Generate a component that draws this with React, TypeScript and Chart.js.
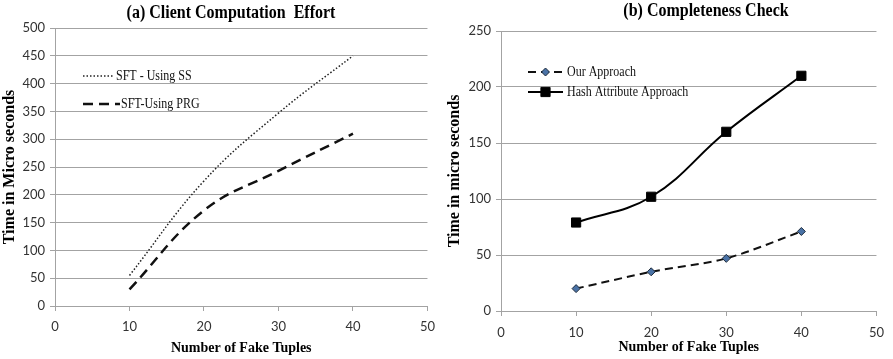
import React, { useEffect, useRef } from "react";
import { Chart, registerables } from "chart.js";

Chart.register(...registerables);

// ---- data ----
const fakeTuples = [10, 20, 30, 40];
const sftUsingSS = [55, 225, 347, 450];
const sftUsingPRG = [30, 172, 243, 310];
const ourApproach = [20, 35, 47, 71];
const hashAttributeApproach = [79, 102, 160, 210];

const leftTitle = "(a) Client Computation  Effort";
const rightTitle = "(b) Completeness Check";
const leftYTitle = "Time in Micro seconds";
const rightYTitle = "Time in micro seconds";
const xTitle = "Number of Fake Tuples";
const leftLegend = ["SFT - Using SS", "SFT-Using PRG"];
const rightLegend = ["Our Approach", "Hash Attribute Approach"];

const GRID = "#a3a3a3";
const TICK_FONT = { family: "Lato, 'Liberation Sans', sans-serif", size: 13 };
const X_TITLE_FONT = { family: "'Liberation Serif', serif", size: 14, weight: "bold" as const };
const Y_TITLE_FONT = { family: "'Liberation Serif', serif", size: 16, weight: "bold" as const };

type Decor = {
  title: string;
  titleX: number;
  titleY: number;
  legend: { label: string; x0: number; x1: number; y: number; tx: number }[];
};

function drawMarker(ctx: CanvasRenderingContext2D, style: string, x: number, y: number, r: number, fill: string, stroke: string) {
  ctx.save();
  ctx.setLineDash([]);
  ctx.fillStyle = fill;
  ctx.strokeStyle = stroke;
  ctx.lineWidth = 1;
  ctx.beginPath();
  if (style === "rect") {
    const s = Math.SQRT1_2 * r;
    ctx.rect(x - s, y - s, 2 * s, 2 * s);
  } else if (style === "rectRot") {
    ctx.moveTo(x, y - r);
    ctx.lineTo(x + r, y);
    ctx.lineTo(x, y + r);
    ctx.lineTo(x - r, y);
    ctx.closePath();
  }
  ctx.fill();
  ctx.stroke();
  ctx.restore();
}

function stretchedText(ctx: CanvasRenderingContext2D, text: string, x: number, y: number, sy: number) {
  ctx.save();
  ctx.translate(x, y);
  ctx.scale(1, sy);
  ctx.fillText(text, 0, 0);
  ctx.restore();
}

function makeDecor(cfg: Decor) {
  return {
    id: "decor",
    afterDraw(chart: any) {
      const ctx: CanvasRenderingContext2D = chart.ctx;
      ctx.save();
      ctx.fillStyle = "#000";
      ctx.textAlign = "center";
      ctx.textBaseline = "middle";
      ctx.font = "bold 16px 'Liberation Serif', serif";
      stretchedText(ctx, cfg.title, cfg.titleX, cfg.titleY, 1.22);
      cfg.legend.forEach((item, i) => {
        const ds = chart.data.datasets[i];
        ctx.save();
        ctx.strokeStyle = ds.borderColor;
        ctx.lineWidth = ds.borderWidth;
        ctx.setLineDash(ds.borderDash || []);
        ctx.beginPath();
        ctx.moveTo(item.x0, item.y);
        ctx.lineTo(item.x1, item.y);
        ctx.stroke();
        ctx.restore();
        if (ds.pointRadius > 0) {
          drawMarker(ctx, ds.pointStyle, (item.x0 + item.x1) / 2, item.y, ds.pointRadius, ds.pointBackgroundColor, ds.pointBorderColor);
        }
        ctx.font = "12px 'Liberation Serif', serif";
        ctx.textAlign = "left";
        ctx.fillStyle = "#111";
        stretchedText(ctx, item.label, item.tx, item.y, 1.15);
      });
      ctx.restore();
    },
  };
}

function makeOptions(p: {
  yMax: number;
  yTitle: string;
  yWidth: number;
  xHeight: number;
  padTop: number;
  padRight: number;
  yTitlePad: number;
  xTitlePad: number;
  xTickPad: number;
}) {
  return {
    responsive: false,
    animation: false as const,
    devicePixelRatio: 1,
    layout: { padding: { top: p.padTop, right: p.padRight, left: 0, bottom: 0 } },
    plugins: { legend: { display: false }, title: { display: false }, tooltip: { enabled: false } },
    scales: {
      x: {
        type: "linear" as const,
        min: 0,
        max: 50,
        ticks: { stepSize: 10, color: "#333", font: TICK_FONT, padding: p.xTickPad },
        grid: { drawOnChartArea: false, drawTicks: true, tickLength: 5, color: GRID },
        border: { color: GRID, width: 1 },
        title: { display: true, text: xTitle, color: "#000", font: X_TITLE_FONT, padding: { top: 0, bottom: p.xTitlePad } },
        afterFit: (s: any) => {
          s.height = p.xHeight;
        },
      },
      y: {
        min: 0,
        max: p.yMax,
        ticks: { stepSize: 50, color: "#333", font: TICK_FONT, padding: 5 },
        grid: { color: GRID, tickLength: 5, lineWidth: 1 },
        border: { color: GRID, width: 1 },
        title: { display: true, text: p.yTitle, color: "#000", font: Y_TITLE_FONT, padding: { top: p.yTitlePad, bottom: 0 } },
        afterFit: (s: any) => {
          s.width = p.yWidth;
        },
      },
    },
  };
}

const pts = (ys: number[]) => fakeTuples.map((x, i) => ({ x, y: ys[i] }));

export default function App() {
  const leftRef = useRef<HTMLCanvasElement>(null);
  const rightRef = useRef<HTMLCanvasElement>(null);

  useEffect(() => {
    const left = new Chart(leftRef.current!, {
      type: "line",
      data: {
        datasets: [
          {
            label: leftLegend[0],
            data: pts(sftUsingSS),
            borderColor: "#222",
            borderWidth: 1.5,
            borderDash: [1.5, 2],
            pointRadius: 0,
            tension: 0.4,
            fill: false,
          },
          {
            label: leftLegend[1],
            data: pts(sftUsingPRG),
            borderColor: "#111",
            borderWidth: 2.5,
            borderDash: [10, 6],
            pointRadius: 0,
            tension: 0.4,
            fill: false,
          },
        ],
      },
      options: makeOptions({
        yMax: 500,
        yTitle: leftYTitle,
        yWidth: 55,
        xHeight: 53,
        padTop: 28,
        padRight: 14,
        yTitlePad: 0.5,
        xTitlePad: 2,
        xTickPad: 8,
      }) as any,
      plugins: [
        makeDecor({
          title: leftTitle,
          titleX: 231,
          titleY: 13,
          legend: [
            { label: leftLegend[0], x0: 83, x1: 114, y: 76, tx: 116 },
            { label: leftLegend[1], x0: 83, x1: 120, y: 104, tx: 121 },
          ],
        }),
      ],
    });

    const right = new Chart(rightRef.current!, {
      type: "line",
      data: {
        datasets: [
          {
            label: rightLegend[0],
            data: pts(ourApproach),
            borderColor: "#111",
            borderWidth: 2,
            borderDash: [8, 5],
            pointStyle: "rectRot",
            pointRadius: 4,
            pointBackgroundColor: "#4a72a6",
            pointBorderColor: "#1d2a3a",
            pointBorderWidth: 1,
            tension: 0.3,
            fill: false,
          },
          {
            label: rightLegend[1],
            data: pts(hashAttributeApproach),
            borderColor: "#000",
            borderWidth: 2,
            pointStyle: "rect",
            pointRadius: 6.5,
            pointBackgroundColor: "#000",
            pointBorderColor: "#000",
            pointBorderWidth: 1,
            tension: 0.4,
            fill: false,
          },
        ],
      },
      options: makeOptions({
        yMax: 250,
        yTitle: rightYTitle,
        yWidth: 58,
        xHeight: 48,
        padTop: 31,
        padRight: 12,
        yTitlePad: 2.5,
        xTitlePad: 3,
        xTickPad: 9,
      }) as any,
      plugins: [
        makeDecor({
          title: rightTitle,
          titleX: 263,
          titleY: 11,
          legend: [
            { label: rightLegend[0], x0: 85, x1: 120, y: 72, tx: 124 },
            { label: rightLegend[1], x0: 85, x1: 120, y: 92, tx: 124 },
          ],
        }),
      ],
    });

    return () => {
      left.destroy();
      right.destroy();
    };
  }, []);

  return (
    <div style={{ position: "fixed", left: 0, top: 0, width: 893, height: 359, background: "#fff" }}>
      <canvas ref={leftRef} width={443} height={359} style={{ position: "absolute", left: 0, top: 0, width: 443, height: 359 }} />
      <canvas ref={rightRef} width={450} height={359} style={{ position: "absolute", left: 443, top: 0, width: 450, height: 359 }} />
    </div>
  );
}
